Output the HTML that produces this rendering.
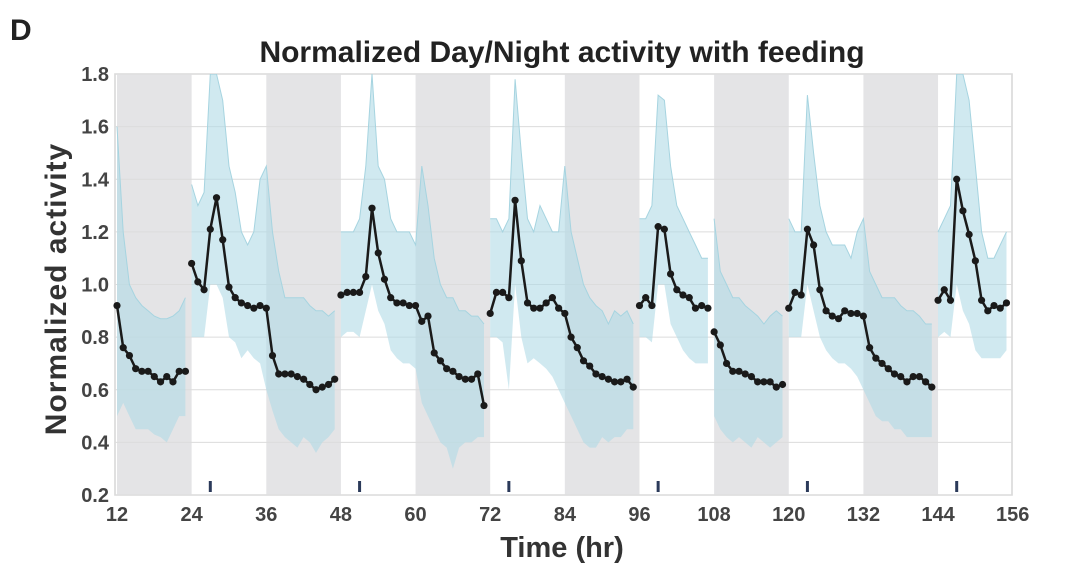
<!DOCTYPE html>
<html><head><meta charset="utf-8"><style>
body{margin:0;background:#fff;width:1080px;height:577px;overflow:hidden;font-family:"Liberation Sans",sans-serif}
svg{display:block}
</style></head><body>
<svg id="chart" width="1080" height="577">
<text x="10" y="40" font-size="30" font-weight="bold" fill="#222">D</text>
<text x="562" y="62" font-size="30" font-weight="bold" fill="#222" text-anchor="middle">Normalized Day/Night activity with feeding</text>
<text transform="translate(66,289) rotate(-90)" font-size="30" font-weight="bold" fill="#333" text-anchor="middle" letter-spacing="1">Normalized activity</text>
<text x="562" y="557" font-size="29" font-weight="bold" fill="#333" text-anchor="middle">Time (hr)</text>
<g id="g"></g>
</svg>
<script>
const yTicks=[0.2,0.4,0.6,0.8,1.0,1.2,1.4,1.6,1.8];
const xTicks=[12,24,36,48,60,72,84,96,108,120,132,144,156];
const nightStarts=[12,36,60,84,108,132];
const feedTimes=[27,51,75,99,123,147];
const segStarts=[12,24,48,72,96,108,120,144];
const meanVals=[0.92,0.76,0.73,0.68,0.67,0.67,0.65,0.63,0.65,0.63,0.67,0.67,
1.08,1.01,0.98,1.21,1.33,1.17,0.99,0.95,0.93,0.92,0.91,0.92,0.91,0.73,0.66,0.66,0.66,0.65,0.64,0.62,0.60,0.61,0.62,0.64,
0.96,0.97,0.97,0.97,1.03,1.29,1.12,1.02,0.95,0.93,0.93,0.92,0.92,0.86,0.88,0.74,0.71,0.68,0.67,0.65,0.64,0.64,0.66,0.54,
0.89,0.97,0.97,0.95,1.32,1.09,0.93,0.91,0.91,0.93,0.95,0.91,0.89,0.80,0.76,0.71,0.69,0.66,0.65,0.64,0.63,0.63,0.64,0.61,
0.92,0.95,0.92,1.22,1.21,1.04,0.98,0.96,0.95,0.91,0.92,0.91,
0.82,0.77,0.70,0.67,0.67,0.66,0.65,0.63,0.63,0.63,0.61,0.62,
0.91,0.97,0.96,1.21,1.15,0.98,0.90,0.88,0.87,0.90,0.89,0.89,0.88,0.76,0.72,0.70,0.68,0.66,0.65,0.63,0.65,0.65,0.63,0.61,
0.94,0.98,0.94,1.40,1.28,1.19,1.09,0.94,0.90,0.92,0.91,0.93];
const upperVals=[1.6,1.2,1.0,0.95,0.92,0.9,0.88,0.87,0.87,0.88,0.9,0.95,
1.38,1.3,1.35,1.8,1.8,1.7,1.45,1.35,1.2,1.15,1.2,1.4,1.45,1.2,1.05,0.95,0.95,0.95,0.95,0.92,0.9,0.9,0.88,0.9,
1.2,1.2,1.2,1.25,1.45,1.8,1.45,1.4,1.25,1.2,1.2,1.2,1.15,1.45,1.3,1.1,1.0,0.95,0.95,0.9,0.9,0.88,0.88,0.85,
1.25,1.25,1.2,1.25,1.78,1.5,1.25,1.2,1.3,1.25,1.2,1.2,1.45,1.2,1.1,1.0,0.95,0.92,0.9,0.85,0.9,0.88,0.9,0.85,
1.25,1.25,1.3,1.72,1.7,1.45,1.3,1.25,1.2,1.15,1.1,1.1,
1.25,1.05,1.0,0.95,0.95,0.92,0.9,0.88,0.85,0.88,0.9,0.88,
1.25,1.2,1.2,1.72,1.5,1.3,1.2,1.15,1.15,1.15,1.1,1.2,1.25,1.05,1.0,0.95,0.95,0.95,0.92,0.9,0.9,0.88,0.85,0.85,
1.2,1.25,1.3,1.8,1.8,1.7,1.45,1.2,1.1,1.1,1.15,1.2];
const lowerVals=[0.5,0.55,0.5,0.45,0.45,0.45,0.43,0.42,0.4,0.45,0.5,0.5,
0.8,0.8,0.8,1.0,1.0,0.95,0.8,0.78,0.72,0.75,0.72,0.7,0.6,0.52,0.45,0.42,0.4,0.38,0.42,0.4,0.36,0.4,0.42,0.45,
0.8,0.82,0.82,0.8,0.9,1.0,0.9,0.85,0.75,0.72,0.7,0.7,0.68,0.55,0.5,0.45,0.4,0.38,0.3,0.38,0.4,0.4,0.42,0.42,
0.8,0.8,0.78,0.6,1.0,0.8,0.7,0.72,0.7,0.68,0.65,0.6,0.55,0.5,0.45,0.4,0.38,0.38,0.42,0.4,0.42,0.42,0.45,0.45,
0.8,0.8,0.78,1.0,1.0,0.85,0.8,0.75,0.72,0.7,0.7,0.7,
0.5,0.45,0.42,0.4,0.42,0.4,0.38,0.42,0.4,0.38,0.4,0.42,
0.8,0.8,0.8,1.0,0.9,0.8,0.75,0.72,0.7,0.7,0.68,0.65,0.6,0.55,0.5,0.48,0.48,0.45,0.45,0.42,0.42,0.42,0.42,0.42,
0.8,0.82,0.8,1.0,0.9,0.85,0.75,0.72,0.72,0.72,0.72,0.75];

const L=115,R=1012,T=74,B=495;
const X=h=>117+(h-12)*6.22;
const Y=v=>B-(v-0.2)*(B-T)/1.6;
const NS="http://www.w3.org/2000/svg";
const g=document.getElementById('g');
function mk(tag,attrs,parent){const e=document.createElementNS(NS,tag);for(const k in attrs)e.setAttribute(k,attrs[k]);(parent||g).appendChild(e);return e;}

const bg=mk('rect',{x:L,y:T,width:R-L,height:B-T,fill:'#fff',stroke:'#d6d6d6','stroke-width':1.5});


nightStarts.forEach(s=>{
  const r=mk('rect',{x:Math.max(L,X(s)),y:T,width:X(s+12)-Math.max(L,X(s)),height:B-T,fill:'#e4e4e6'});
  
  
});
yTicks.forEach(v=>{
  const l=mk('line',{x1:L,x2:R,y1:Y(v),y2:Y(v),stroke:'#dcdcdc','stroke-width':1});
  
  
  const t=mk('text',{x:L-6,y:Y(v)+7,'font-size':20,'font-weight':'bold',fill:'#444','text-anchor':'end'});
  t.textContent=v.toFixed(1);
  
  
});
xTicks.forEach(h=>{
  const t=mk('text',{x:X(h),y:521,'font-size':20,'font-weight':'bold',fill:'#444','text-anchor':'middle'});
  t.textContent=h;
  
  
});
const clip=mk('clipPath',{id:'pc'});mk('rect',{x:L,y:T,width:R-L,height:B-T},clip);
const segs=[];
for(let i=0;i<segStarts.length;i++){const a=segStarts[i],b=(segStarts[i+1]||156);const idx=[];for(let h=a;h<b;h++)idx.push(h-12);segs.push(idx);}
const cg=mk('g',{'clip-path':'url(#pc)'});
segs.forEach(idx=>{
  let d='';idx.forEach((i,k)=>d+=(k?'L':'M')+X(i+12).toFixed(1)+','+Y(upperVals[i]).toFixed(1));
  idx.slice().reverse().forEach(i=>d+='L'+X(i+12).toFixed(1)+','+Y(lowerVals[i]).toFixed(1));
  const p=mk('path',{d:d+'Z',fill:'#b0dbe6','fill-opacity':0.6},cg);
  
  
  let u='';idx.forEach((i,k)=>u+=(k?'L':'M')+X(i+12).toFixed(1)+','+Y(upperVals[i]).toFixed(1));
  const pu=mk('path',{d:u,fill:'none',stroke:'#a6d4e0','stroke-width':1},cg);
  
  
});
feedTimes.forEach(h=>{
  const l=mk('line',{x1:X(h),x2:X(h),y1:481,y2:492,stroke:'#2b3a5a','stroke-width':3});
  
  
});
segs.forEach(idx=>{
  let d='';idx.forEach((i,k)=>d+=(k?'L':'M')+X(i+12).toFixed(1)+','+Y(meanVals[i]).toFixed(1));
  const p=mk('path',{d:d,fill:'none',stroke:'#1a1a1a','stroke-width':2.5});
  
  
  idx.forEach(i=>{
    const c=mk('circle',{cx:X(i+12),cy:Y(meanVals[i]),r:3.6,fill:'#1a1a1a'});
    
    
  });
});
</script>
</body></html>
